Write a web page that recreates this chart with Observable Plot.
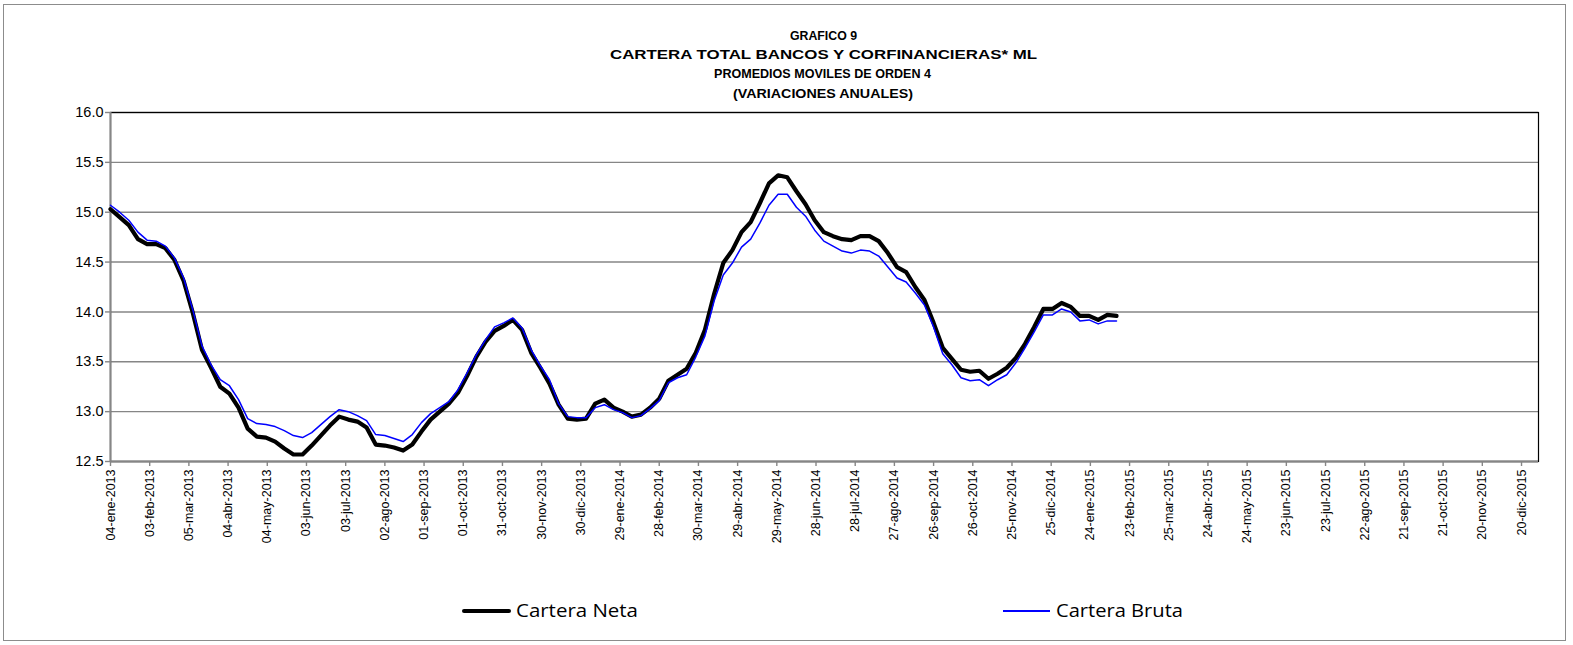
<!DOCTYPE html>
<html>
<head>
<meta charset="utf-8">
<script src="https://cdn.jsdelivr.net/npm/d3@7"></script>
<script src="https://cdn.jsdelivr.net/npm/@observablehq/plot@0.6"></script>
<style>
  body { margin: 0; background: #fff; font-family: "Liberation Sans", Arial, sans-serif; }
  #wrap { position: relative; width: 1573px; height: 645px; overflow: hidden; background: #fff; }
  #border { position: absolute; left: 3px; top: 4px; width: 1563px; height: 637px; border: 1px solid #8c8c8c; box-sizing: border-box; }
  .tl { position: absolute; font-weight: bold; font-size: 13px; line-height: 16px; color: #000; white-space: nowrap; transform-origin: 0 50%; }
  #chart { position: absolute; left: 0; top: 0; }
  .legline { position: absolute; }
  .legtxt { position: absolute; font-family: "Open Sans", "Liberation Sans", sans-serif; font-size: 18px; line-height: 22px; color: #000; white-space: nowrap; transform-origin: 0 50%; }
</style>
</head>
<body>
<div id="wrap">
  <div id="border"></div>
  <div class="tl fit" data-w="67" data-c="823" style="top:28px">GRAFICO 9</div>
  <div class="tl fit" data-w="427" data-c="823" style="top:47px">CARTERA TOTAL BANCOS Y CORFINANCIERAS* ML</div>
  <div class="tl fit" data-w="217" data-c="822" style="top:66px">PROMEDIOS MOVILES DE ORDEN 4</div>
  <div class="tl fit" data-w="180" data-c="823" style="top:86px">(VARIACIONES ANUALES)</div>
  <div id="chart"></div>
  <div class="legline" style="left:462px;top:609px;width:49px;height:4px;background:#000;border-radius:2px"></div>
  <div class="legtxt fit" data-w="122" data-l="516" style="top:599px">Cartera Neta</div>
  <div class="legline" style="left:1003px;top:610px;width:47px;height:1.5px;background:#0000ff"></div>
  <div class="legtxt fit" data-w="127" data-l="1056" style="top:599px">Cartera Bruta</div>
</div>
<script>
// ---- Data ----
const startDate = "2013-01-04";           // first weekly observation (Friday)
const seriesNames = ["Cartera Neta", "Cartera Bruta"];
const carteraNeta = [
  15.03, 14.95, 14.87, 14.73, 14.68, 14.68, 14.64, 14.52, 14.31, 13.99,
  13.62, 13.44, 13.25, 13.18, 13.04, 12.83, 12.75, 12.74, 12.70, 12.63,
  12.57, 12.57, 12.66, 12.76, 12.86, 12.95, 12.92, 12.90, 12.84, 12.67,
  12.66, 12.64, 12.61, 12.67, 12.80, 12.92, 13.00, 13.08, 13.19, 13.36,
  13.55, 13.70, 13.81, 13.86, 13.92, 13.82, 13.59, 13.44, 13.28, 13.07,
  12.93, 12.92, 12.93, 13.08, 13.12, 13.04, 13.00, 12.95, 12.97, 13.04,
  13.13, 13.31, 13.37, 13.43, 13.59, 13.82, 14.18, 14.49, 14.62, 14.80,
  14.90, 15.09, 15.29, 15.37, 15.35, 15.21, 15.08, 14.92, 14.80, 14.76,
  14.73, 14.72, 14.76, 14.76, 14.71, 14.59, 14.45, 14.40, 14.25, 14.12,
  13.89, 13.64, 13.53, 13.42, 13.40, 13.41, 13.33, 13.38, 13.44, 13.54,
  13.68, 13.85, 14.03, 14.03, 14.09, 14.05, 13.96, 13.96, 13.92, 13.97,
  13.96
];
const carteraBruta = [
  15.07, 15.00, 14.92, 14.80, 14.72, 14.71, 14.66, 14.54, 14.34, 14.02,
  13.66, 13.47, 13.32, 13.26, 13.12, 12.93, 12.88, 12.87, 12.85, 12.81,
  12.76, 12.74, 12.79, 12.87, 12.95, 13.02, 13.00, 12.96, 12.91, 12.77,
  12.76, 12.73, 12.70, 12.77, 12.89, 12.98, 13.04, 13.10, 13.22, 13.39,
  13.57, 13.72, 13.85, 13.89, 13.94, 13.84, 13.62, 13.46, 13.32, 13.08,
  12.95, 12.94, 12.94, 13.04, 13.07, 13.02, 12.99, 12.94, 12.96, 13.03,
  13.11, 13.29, 13.34, 13.37, 13.55, 13.76, 14.11, 14.37, 14.49, 14.65,
  14.73, 14.89, 15.07, 15.18, 15.18, 15.05, 14.96, 14.82, 14.71, 14.66,
  14.61, 14.59, 14.62, 14.61, 14.56, 14.45, 14.34, 14.30, 14.19, 14.07,
  13.85, 13.58, 13.47, 13.34, 13.31, 13.32, 13.26, 13.32, 13.37, 13.49,
  13.64, 13.80, 13.97, 13.97, 14.03, 14.00, 13.91, 13.92, 13.88, 13.91,
  13.91
];
const xTickLabels = [
  "04-ene-2013","03-feb-2013","05-mar-2013","04-abr-2013","04-may-2013","03-jun-2013",
  "03-jul-2013","02-ago-2013","01-sep-2013","01-oct-2013","31-oct-2013","30-nov-2013",
  "30-dic-2013","29-ene-2014","28-feb-2014","30-mar-2014","29-abr-2014","29-may-2014",
  "28-jun-2014","28-jul-2014","27-ago-2014","26-sep-2014","26-oct-2014","25-nov-2014",
  "25-dic-2014","24-ene-2015","23-feb-2015","25-mar-2015","24-abr-2015","24-may-2015",
  "23-jun-2015","23-jul-2015","22-ago-2015","21-sep-2015","21-oct-2015","20-nov-2015",
  "20-dic-2015"
];
const yTicks = [12.5, 13.0, 13.5, 14.0, 14.5, 15.0, 15.5, 16.0];
const xDomainLabels = ["2013-01-04", "2016-01-02"];

// ---- Build ----
const monthIdx = {ene:0,feb:1,mar:2,abr:3,may:4,jun:5,jul:6,ago:7,sep:8,oct:9,nov:10,dic:11};
const parseLabel = s => { const [d,m,y] = s.split("-"); return new Date(Date.UTC(+y, monthIdx[m], +d)); };
const tickDates = xTickLabels.map(parseLabel);
const labelOf = new Map(tickDates.map((d,i) => [+d, xTickLabels[i]]));
const t0 = new Date(startDate + "T00:00:00Z");
const rows = [];
carteraNeta.forEach((v,i) => rows.push({date: d3.utcDay.offset(t0, 7*i), v, s: seriesNames[0]}));
carteraBruta.forEach((v,i) => rows.push({date: d3.utcDay.offset(t0, 7*i), v, s: seriesNames[1]}));
const xDomain = xDomainLabels.map(s => new Date(s + "T00:00:00Z"));

const W = 1573, H = 580;
const chart = Plot.plot({
  width: W, height: H,
  marginLeft: 110, marginRight: 35, marginTop: 112, marginBottom: H - 461,
  style: {fontFamily: "'Liberation Sans', Arial, sans-serif", background: "transparent", color: "#000"},
  x: {type: "utc", domain: xDomain},
  y: {domain: [12.5, 16.0]},
  marks: [
    Plot.gridY(yTicks, {stroke: "#868686", strokeOpacity: 1, strokeWidth: 1.4}),
    Plot.frame({stroke: "#000", strokeWidth: 1.2}),
    Plot.ruleY([12.5], {stroke: "#868686", strokeWidth: 2}),
    Plot.ruleX([xDomain[0]], {stroke: "#868686", strokeWidth: 2}),
    Plot.axisY(yTicks, {tickFormat: d3.format(".1f"), fontSize: 14.5, tickSize: 5, tickPadding: 2, stroke: "#868686", strokeWidth: 1.4, label: null}),
    Plot.axisX(tickDates, {tickFormat: d => labelOf.get(+d), tickRotate: -90, fontSize: 12.5, tickSize: 5, tickPadding: 3, stroke: "#868686", strokeWidth: 1.4, label: null}),
    Plot.line(rows.filter(r => r.s === seriesNames[0]), {x: "date", y: "v", stroke: "#000", strokeWidth: 4.2, strokeLinejoin: "round", strokeLinecap: "round"}),
    Plot.line(rows.filter(r => r.s === seriesNames[1]), {x: "date", y: "v", stroke: "#0000ff", strokeWidth: 1.5})
  ]
});
document.getElementById("chart").appendChild(chart);

// fit text blocks to the widths seen in the reference
document.querySelectorAll(".fit").forEach(el => {
  const w = el.getBoundingClientRect().width;
  const target = +el.dataset.w;
  const k = target / w;
  el.style.transform = `scaleX(${k})`;
  if (el.dataset.c) el.style.left = (+el.dataset.c - target / 2) + "px";
  else el.style.left = el.dataset.l + "px";
});
</script>
</body>
</html>
